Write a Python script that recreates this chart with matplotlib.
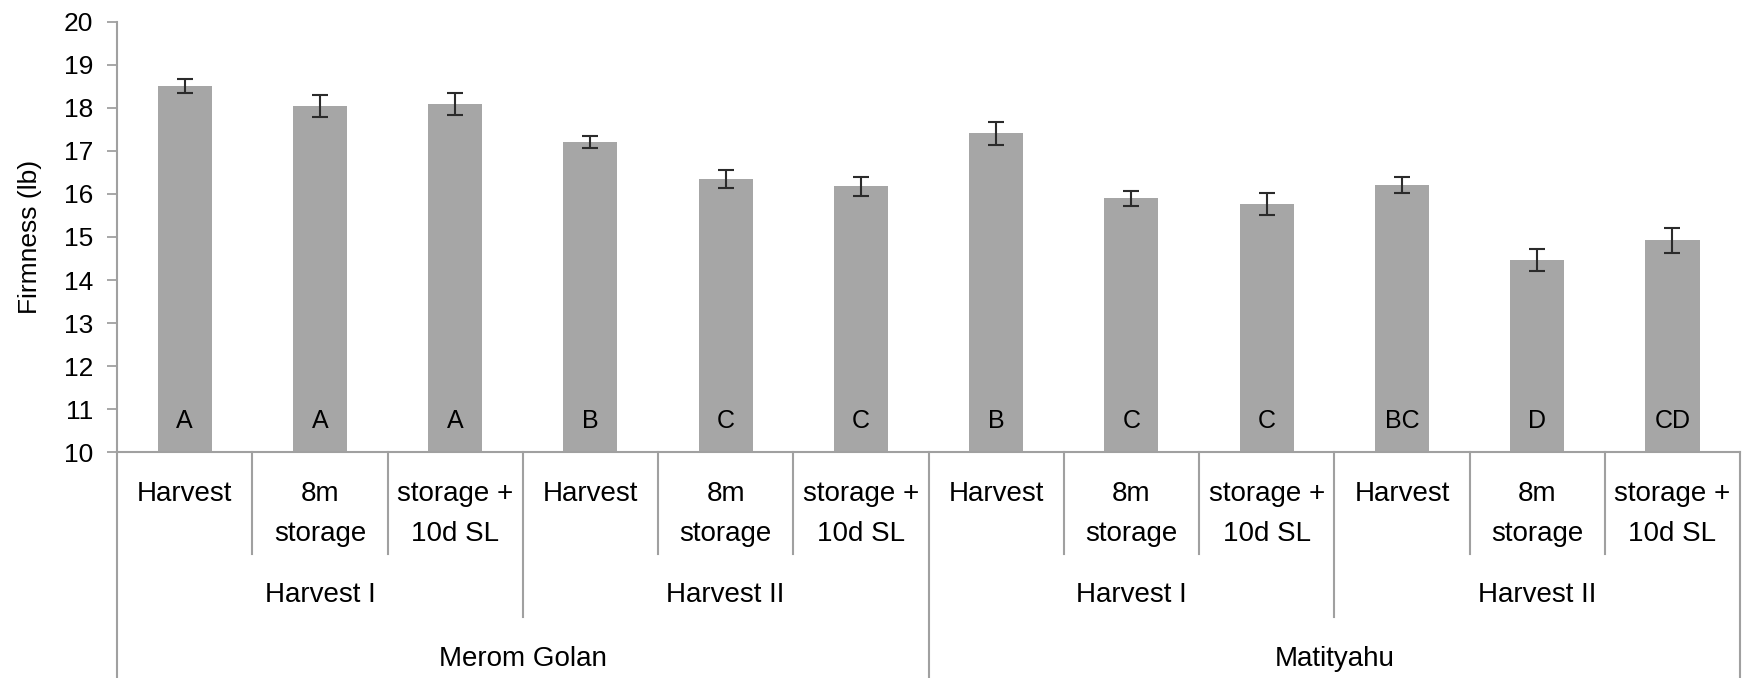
import matplotlib.pyplot as plt

plt.rcParams['font.family'] = ['Liberation Sans', 'DejaVu Sans']

# Firmness means and standard errors, in plotting order
treatments = ["Harvest", "8m\nstorage", "storage +\n10d SL"] * 4
harvests = ["Harvest I", "Harvest II", "Harvest I", "Harvest II"]
sites = ["Merom Golan", "Matityahu"]
firmness = [18.51, 18.05, 18.09, 17.21, 16.35, 16.18, 17.41, 15.90, 15.77, 16.21, 14.47, 14.92]
sem = [0.17, 0.26, 0.25, 0.15, 0.21, 0.22, 0.26, 0.18, 0.25, 0.19, 0.26, 0.30]
letters = ["A", "A", "A", "B", "C", "C", "B", "C", "C", "BC", "D", "CD"]

bar_color = "#a6a6a6"
line_color = "#a0a0a0"

fig = plt.figure(figsize=(17.52, 6.78), dpi=100)
ax = fig.add_axes([0.0668, 0.3333, 0.9264, 0.6343])

x = list(range(len(firmness)))
ax.bar(x, [v - 10 for v in firmness], bottom=10, width=0.4, color=bar_color)
ax.errorbar(x, firmness, yerr=sem, fmt='none', ecolor='#2b2b2b',
            elinewidth=1.5, capsize=6, capthick=1.5)

for xi, lab in zip(x, letters):
    ax.text(xi, 10.72, lab, ha='center', va='center', fontsize=18)

ax.set_xlim(-0.5, 11.5)
ax.set_ylim(10, 20)
ax.set_yticks(range(10, 21))
ax.set_xticks([])
ax.tick_params(axis='y', length=7, width=1.3, color=line_color, labelsize=19, pad=10)
for side in ['top', 'right']:
    ax.spines[side].set_visible(False)
for side in ['left', 'bottom']:
    ax.spines[side].set_color(line_color)
    ax.spines[side].set_linewidth(1.5)
ax.set_ylabel("Firmness (lb)", fontsize=19, labelpad=16)

# multi-level category axis below the bars
tr = ax.get_xaxis_transform()
row1, row2 = -0.098, -0.191
inner_end, mid_end, bottom = -0.237, -0.384, -0.53

for i, lab in enumerate(treatments):
    lines = lab.split("\n")
    for j, line in enumerate(lines):
        ax.text(i, [row1, row2][j], line, transform=tr, ha='center', va='center',
                fontsize=20, clip_on=False)

for g, lab in enumerate(harvests):
    ax.text(g * 3 + 1, -0.333, lab, transform=tr, ha='center', va='center',
            fontsize=20, clip_on=False)

for s, lab in enumerate(sites):
    ax.text(s * 6 + 2.5, -0.481, lab, transform=tr, ha='center', va='center',
            fontsize=20, clip_on=False)

for b in range(12):
    xb = b + 0.5
    if b in (5, 11):
        end = bottom
    elif b % 3 == 2:
        end = mid_end
    else:
        end = inner_end
    ax.plot([xb, xb], [0, end], transform=tr, color=line_color, lw=1.5, clip_on=False)
ax.plot([-0.5, -0.5], [0, bottom], transform=tr, color=line_color, lw=1.5, clip_on=False)

fig.savefig("out.png", dpi=100, facecolor='white')
